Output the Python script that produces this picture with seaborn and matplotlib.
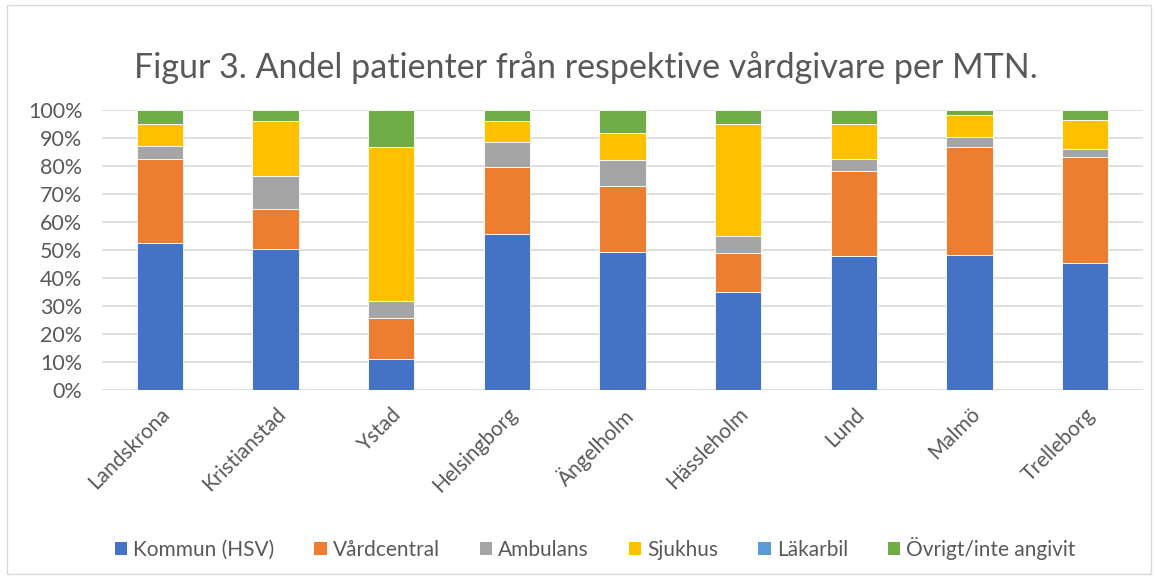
import matplotlib
matplotlib.use("Agg")
import matplotlib.pyplot as plt
import seaborn as sns
import numpy as np
from matplotlib.patches import Rectangle, Patch

categories = ["Landskrona", "Kristianstad", "Ystad", "Helsingborg", "Ängelholm",
              "Hässleholm", "Lund", "Malmö", "Trelleborg"]
kommun = [52.7, 50.3, 11.1, 55.6, 49.2, 35.2, 47.8, 48.3, 45.5]
vardcentral = [29.7, 14.3, 14.8, 23.9, 23.6, 13.8, 30.6, 38.6, 37.7]
ambulans = [4.9, 12.0, 6.0, 9.2, 9.5, 5.9, 4.1, 3.6, 3.0]
sjukhus = [7.6, 19.4, 54.8, 7.3, 9.4, 40.0, 12.4, 7.7, 10.1]
lakarbil = [0.0, 0.0, 0.0, 0.0, 0.0, 0.0, 0.0, 0.0, 0.0]
ovrigt = [5.1, 4.0, 13.3, 4.0, 8.3, 5.1, 5.1, 1.8, 3.7]

series_names = ["Kommun (HSV)", "Vårdcentral", "Ambulans", "Sjukhus", "Läkarbil", "Övrigt/inte angivit"]
series_vals = [kommun, vardcentral, ambulans, sjukhus, lakarbil, ovrigt]
colors = ["#4472C4", "#ED7D31", "#A5A5A5", "#FFC000", "#5B9BD5", "#70AD47"]

sns.set_theme(style="white")
plt.rcParams['font.family'] = ['Lato', 'DejaVu Sans']
txt = "#595959"

fig = plt.figure(figsize=(11.58, 5.79), dpi=100)
ax = fig.add_axes([0.088, 0.326, 0.899, 0.484])

bottom = np.zeros(len(categories))
for name, vals, c in zip(series_names, series_vals, colors):
    v = np.array(vals)
    sns.barplot(x=categories, y=v, bottom=bottom, color=c, saturation=1, width=0.4,
                edgecolor="white", linewidth=0.6, ax=ax, zorder=3)
    bottom = bottom + v

ax.set_ylim(0, 100)
ax.set_xlim(-0.5, len(categories) - 0.5)
ax.set_yticks(np.arange(0, 101, 10))
ax.set_yticklabels([f"{t}%" for t in range(0, 101, 10)], fontsize=15.5, color=txt)
ax.yaxis.grid(True, color="#d9d9d9", linewidth=1.2, zorder=0)
ax.set_axisbelow(True)
for s in ax.spines.values():
    s.set_visible(False)
ax.tick_params(axis='y', length=0, pad=14)
ax.set_xticks(range(len(categories)))
ax.set_xticklabels(categories, rotation=45, ha='right', rotation_mode='anchor',
                   fontsize=15, color=txt)
ax.tick_params(axis='x', length=0, pad=10)
ax.set_xlabel("")
ax.set_ylabel("")

fig.text(0.506, 0.883, "Figur 3. Andel patienter från respektive vårdgivare per MTN.",
         ha='center', va='center', fontsize=24.5, color=txt)

handles = [Patch(facecolor=c, edgecolor='none') for c in colors]
fig.legend(handles, series_names, loc='center', bbox_to_anchor=(0.514, 0.053), ncol=6,
           frameon=False, fontsize=15, labelcolor=txt, handlelength=0.6,
           handleheight=0.6, handletextpad=0.3, columnspacing=1.9)

fig.patches.append(Rectangle((0.006, 0.008), 0.988, 0.984, transform=fig.transFigure,
                             fill=False, edgecolor="#d9d9d9", linewidth=1))

fig.savefig("out.png", dpi=100)
